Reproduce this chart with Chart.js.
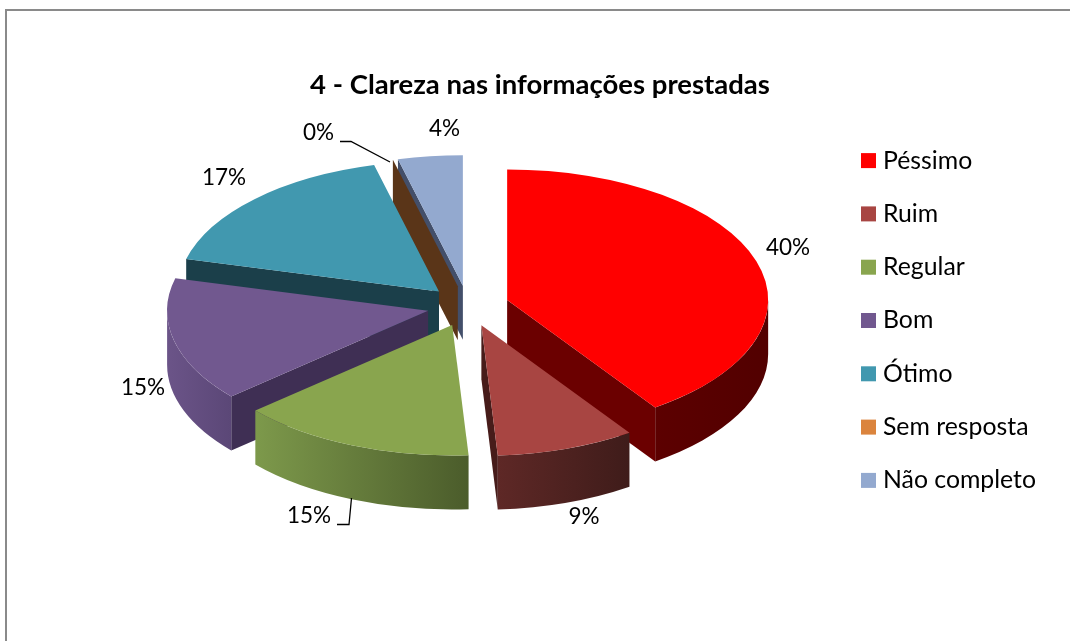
<!DOCTYPE html>
<html>
<head>
<meta charset="utf-8">
<style>
html,body{margin:0;padding:0;background:#fff;overflow:hidden}
#wrap{position:absolute;left:0;top:0;width:1070px;height:641px}
#frame{position:absolute;left:5px;top:9px;width:1065px;height:632px;border-left:2px solid #8a8a8a;border-top:2px solid #8a8a8a;box-sizing:border-box;pointer-events:none}
canvas{position:absolute;left:0;top:0}
</style>
</head>
<body>
<div id="wrap"><canvas id="c" width="1070" height="641"></canvas><div id="frame"></div></div>
<script src="https://cdn.jsdelivr.net/npm/chart.js@4/dist/chart.umd.min.js"></script>
<script>
const titleText = '4 - Clareza nas informações prestadas';
const categories = ['Péssimo','Ruim','Regular','Bom','Ótimo','Sem resposta','Não completo'];
const values = [40.4,8.6,14.6,15.4,17,0,4];
const colors = ['#ff0000','#a84542','#89a54e','#71588f','#4198af','#db843d','#93a9cf'];
const wallLeft = ['#5c0000','#5e2826','#7d994b','#6b5488','#2b6475','#5a3518','#434f6a'];
const wallRight = ['#520000','#3f1c1a','#4b5c2b','#5b4777','#1c3f4a','#5a3518','#434f6a'];
const faces = ['#6b0000','#471c1a','#4b5c2b','#3f2f54','#1b3f4a','#5a3518','#434f6a'];
const labelSpots = [[788,248],[584,517],[309,516],[143,388],[224,178],[318.5,133],[444.5,129]];

const FONT = 'Lato, Carlito, Calibri, sans-serif';
const PIE_X = 468, PIE_Y = 306, SQUASH = 0.5, DEPTH = 54, EXPLODE = 41, RADIUS = 261;

const pie3d = {
  id: 'pie3d',
  beforeDatasetsDraw(chart) {
    const ctx = chart.ctx, meta = chart.getDatasetMeta(0);
    const xc = (chart.chartArea.left + chart.chartArea.right) / 2;
    const yc = (chart.chartArea.top + chart.chartArea.bottom) / 2;
    const order = meta.data.map((a, i) => i).sort((p, q) => {
      const m = a => (a.startAngle + a.endAngle) / 2;
      return Math.sin(m(meta.data[p])) - Math.sin(m(meta.data[q]));
    });
    order.forEach(i => {
      const arc = meta.data[i];
      const mid = (arc.startAngle + arc.endAngle) / 2;
      const R = arc.outerRadius;
      const dx = Math.cos(mid) * EXPLODE, dy = Math.sin(mid) * EXPLODE;
      const cx = PIE_X + dx;
      const cy = PIE_Y + dy * SQUASH;
      const px = a => cx + R * Math.cos(a);
      const py = a => cy + R * Math.sin(a) * SQUASH;
      const face = a => {
        ctx.fillStyle = faces[i];
        ctx.beginPath();
        ctx.moveTo(cx, cy);
        ctx.lineTo(px(a), py(a));
        ctx.lineTo(px(a), py(a) + DEPTH);
        ctx.lineTo(cx, cy + DEPTH);
        ctx.closePath();
        ctx.fill();
      };
      if (Math.cos(arc.startAngle) < 0) face(arc.startAngle);
      if (Math.cos(arc.endAngle) > 0 && arc.endAngle > arc.startAngle) face(arc.endAngle);
      // outer wall: only the part that faces the viewer
      const a1 = arc.startAngle, a2 = arc.endAngle;
      [[0, Math.PI], [2 * Math.PI, 3 * Math.PI]].forEach(([lo, hi]) => {
        const s = Math.max(a1, lo), e = Math.min(a2, hi);
        if (e <= s) return;
        const g = ctx.createLinearGradient(Math.min(px(s), px(e)), 0, Math.max(px(s), px(e)), 0);
        g.addColorStop(0, wallLeft[i]);
        g.addColorStop(1, wallRight[i]);
        ctx.fillStyle = g;
        ctx.beginPath();
        ctx.ellipse(cx, cy, R, R * SQUASH, 0, s, e, false);
        ctx.ellipse(cx, cy + DEPTH, R, R * SQUASH, 0, e, s, true);
        ctx.closePath();
        ctx.fill();
      });
      // top surface, drawn by the library's own arc element
      ctx.save();
      ctx.translate(cx, cy);
      ctx.scale(1, SQUASH);
      ctx.translate(-xc, -yc);
      arc.draw(ctx);
      ctx.restore();
    });
    return false;
  },
  afterDraw(chart) {
    const ctx = chart.ctx;
    const total = values.reduce((s, v) => s + v, 0);
    ctx.save();
    ctx.font = '22.5px ' + FONT;
    ctx.fillStyle = '#000';
    ctx.textAlign = 'center';
    ctx.textBaseline = 'middle';
    values.forEach((v, i) => {
      ctx.fillText(Math.round(v / total * 100) + '%', labelSpots[i][0], labelSpots[i][1]);
    });
    ctx.strokeStyle = '#000';
    ctx.lineWidth = 1.3;
    ctx.beginPath();
    ctx.moveTo(340, 141.5); ctx.lineTo(351, 141.5); ctx.lineTo(390, 162);
    ctx.moveTo(337, 524.5); ctx.lineTo(349, 524.5); ctx.lineTo(351.5, 498);
    ctx.stroke();
    ctx.restore();
  }
};

new Chart(document.getElementById('c'), {
  type: 'pie',
  plugins: [pie3d],
  data: {
    labels: categories,
    datasets: [{
      data: values,
      backgroundColor: colors,
      borderWidth: 0,
      radius: RADIUS,
      clip: false
    }]
  },
  options: {
    responsive: false,
    animation: false,
    layout: { padding: { left: 34, right: 24, top: 0, bottom: 0 } },
    plugins: {
      tooltip: { enabled: false },
      title: {
        display: true,
        text: titleText,
        color: '#000',
        font: { family: FONT, size: 27.5, weight: 'bold' },
        padding: { top: 69, bottom: 10 }
      },
      legend: {
        display: true,
        position: 'right',
        labels: {
          boxWidth: 4.2,
          boxHeight: 4.2,
          padding: 28.5,
          color: '#000',
          font: { family: FONT, size: 24.8 },
          generateLabels(chart) {
            return Chart.overrides.pie.plugins.legend.labels.generateLabels(chart).map(it => {
              it.strokeStyle = it.fillStyle;
              it.lineWidth = 10.8;
              return it;
            });
          }
        }
      }
    }
  }
});
</script>
</body>
</html>
